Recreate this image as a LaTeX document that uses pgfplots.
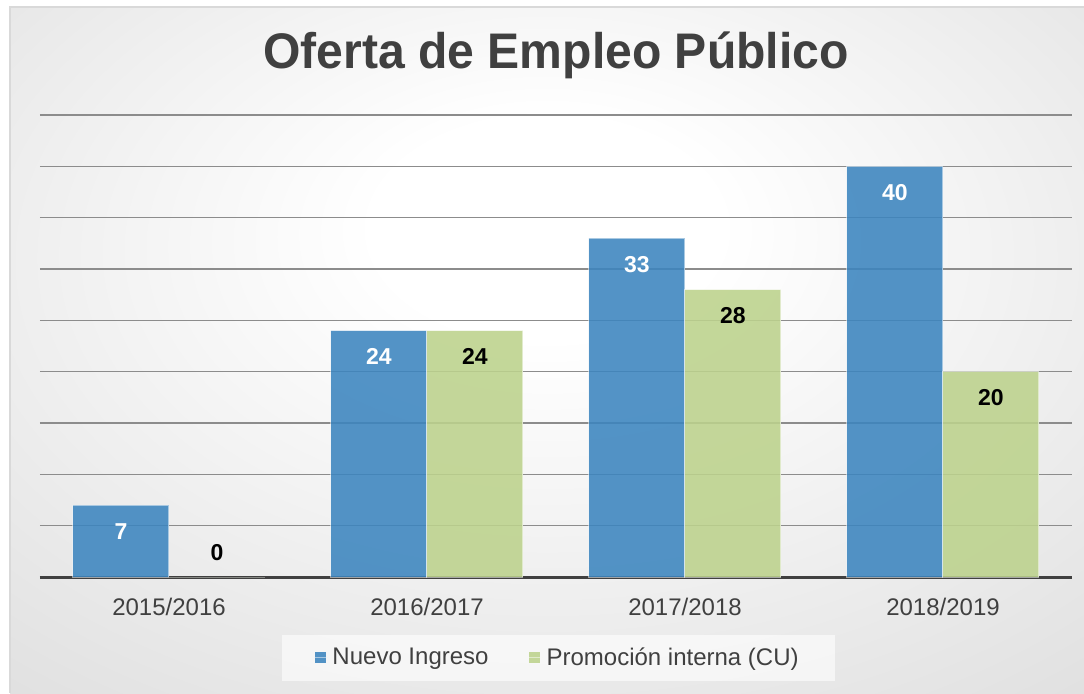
\documentclass[border=0pt]{standalone}
\usepackage{pgfplots}
\pgfplotsset{compat=1.18}
\usepackage{graphicx}
\usepackage{fontspec}
\setmainfont{Liberation Sans}
\definecolor{txt}{RGB}{64,64,64}
\definecolor{bblue}{RGB}{60,133,191}
\definecolor{bgreen}{RGB}{188,210,140}
\definecolor{gridc}{RGB}{140,140,140}
\definecolor{bggray}{RGB}{192,192,192}
\pgfdeclareradialshading{bgshade}{\pgfpoint{0bp}{10bp}}{color(0bp)=(white); color(8bp)=(white); color(72bp)=(bggray)}

\pgfplotstableread{
x y
0 7
1 24
2 33
3 40
}\nuevo
\pgfplotstableread{
x y
0 0
1 24
2 28
3 20
}\promo

\begin{document}
\begin{tikzpicture}
\path[use as bounding box] (0,0) rectangle (542pt,346.5pt);
\fill[white] (0,0) rectangle (542pt,346.5pt);
\shade[shading=bgshade] (5pt,0) rectangle (542pt,343pt);
\draw[gray!30, line width=0.6pt] (5pt,0) -- (5pt,343pt) -- (542pt,343pt);
\begin{axis}[
  at={(20pt,58pt)}, anchor=south west,
  scale only axis, width=516pt, height=231pt,
  ymin=0, ymax=45, xmin=-0.5, xmax=3.5,
  ybar=0pt, bar width=48pt,
  axis x line*=bottom, axis y line*=left,
  y axis line style={draw=none},
  x axis line style={-, line width=1.5pt, draw=txt},
  xtick={0,1,2,3},
  xticklabels={2015/2016,2016/2017,2017/2018,2018/2019},
  xticklabel style={font=\fontsize{12}{14}\selectfont, text=txt, anchor=base, yshift=-19pt},
  ytick={0,5,...,45}, yticklabels={},
  ymajorgrids, grid style={gridc, line width=0.6pt},
  major tick length=0pt,
  title={\scalebox{0.962}[1]{Oferta de Empleo Público}},
  title style={font=\bfseries\fontsize{25}{30}\selectfont, text=txt, at={(0.5,1.0757)}, anchor=base},
  legend columns=2,
  legend style={at={(0.5025,-0.175)}, anchor=center, fill=white, fill opacity=0.6, text opacity=1,
    draw=none, font=\fontsize{12}{14}\selectfont, text=txt, inner xsep=16pt, inner ysep=4.5pt,
    /tikz/every even column/.append style={column sep=18pt}},
  legend image code/.code={\fill[#1,draw=none] (0pt,-2.75pt) rectangle (5.5pt,2.75pt); \path (0pt,0pt) -- (6.5pt,0pt);},
  visualization depends on={rawy \as \rawy},
  nodes near coords,
  /pgf/number format/assume math mode=true,
  every node near coord/.append style={font=\bfseries\fontsize{11.5}{13}\selectfont, anchor=center,
     yshift={(\rawy==0) ? 12 : -13}},
]
\addplot[fill=bblue, fill opacity=0.88, draw=white, draw opacity=0.5, line width=0.5pt,
  every node near coord/.append style={text=white, text opacity=1}] table[x=x,y=y] {\nuevo};
\addplot[fill=bgreen, fill opacity=0.88, draw=white, draw opacity=0.5, line width=0.5pt,
  every node near coord/.append style={text=black, text opacity=1}] table[x=x,y=y] {\promo};
\legend{Nuevo Ingreso, Promoción interna (CU)}
\end{axis}
\end{tikzpicture}
\end{document}
